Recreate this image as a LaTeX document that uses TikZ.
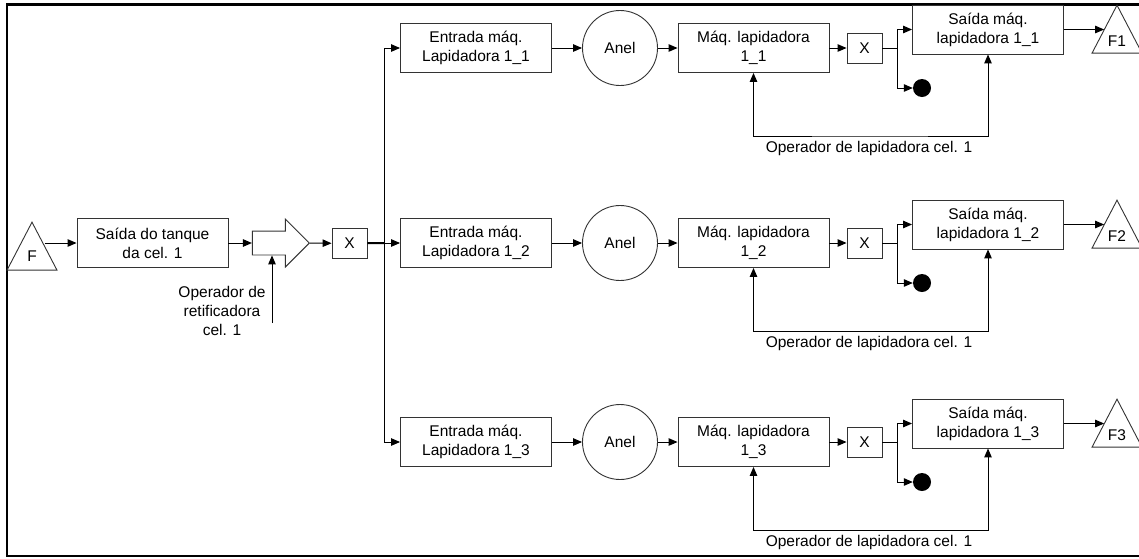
\documentclass[tikz,border=0pt]{standalone}
\usepackage{fontspec}
\setmainfont{Liberation Sans}
\usetikzlibrary{shapes.geometric}
\usetikzlibrary{shapes.arrows}
\usetikzlibrary{arrows.meta}

\tikzset{
  box/.style={draw=black!80, line width=0.9pt, minimum width=151pt, minimum height=49pt, align=center, inner sep=1pt},
  xbox/.style={draw=black!80, line width=0.9pt, minimum width=35pt, minimum height=30pt, inner sep=0pt},
  ring/.style={draw=black!80, line width=0.9pt, circle, minimum size=75pt, inner sep=0pt},
  sink/.style={circle, fill=black, minimum size=18pt, inner sep=0pt},
  src/.style={draw=black!80, line width=0.9pt, isosceles triangle, shape border rotate=90,
    isosceles triangle stretches, minimum width=50pt, minimum height=48pt, inner sep=0pt, anchor=apex},
  merge/.style={draw=black!80, line width=0.9pt, single arrow, single arrow head extend=12pt,
    minimum height=57pt, inner xsep=0pt, inner ysep=11.5pt, anchor=tip},
  flow/.style={line width=1pt, -{Triangle[length=9pt,width=7.5pt]}},
  feed/.style={line width=1pt, {Triangle[length=9pt,width=7.5pt]}-{Triangle[length=9pt,width=7.5pt]}},
}

\begin{document}
\begin{tikzpicture}[x=1pt,y=-1pt,font=\fontsize{15.5}{19}\selectfont]
  \useasboundingbox (0,0) rectangle (1139,558);
  \draw[line width=2.4pt] (1150,4.3) -- (7,4.3) -- (7,556) -- (1150,556);

  % retificadora side
  \node[src] (f0) at (32,221) {F};
  \node[box] (tanq) at (152.5,243) {Saída do tanque\\da cel. 1};
  \node[merge] (ret) at (310,243) {};
  \node[xbox] (x0) at (349.5,243.5) {X};
  \coordinate (opr) at (272,323);
  \node[align=center] (oprlab) at (222,311) {Operador de\\retificadora\\cel. 1};
  \coordinate (dist) at (384,243);

  \draw[flow] (tanq.west -| f0.right side) -- (tanq.west);
  \draw[flow] (tanq) -- (ret.tail);
  \draw[flow] (opr) -- (opr |- ret.south);
  \draw[flow] (ret.tip) -- (x0);
  \draw[line width=2pt] (x0) -- (dist);

  % the three lapidadora lines
  \foreach \i/\y in {1/48,2/243,3/442}{
    \node[box] (ent\i) at (476,\y) {Entrada máq.\\Lapidadora 1\_\i};
    \node[ring] (anel\i) at (620,\y) {Anel};
    \node[box] (maq\i) at (753.5,\y) {Máq. lapidadora\\1\_\i};
    \node[xbox] (x\i) at (864.5,\y) {X};
    \coordinate (sp\i) at (897,\y);
    \node[box] (sai\i) at (988,\y-18.5) {Saída máq.\\lapidadora 1\_\i};
    \node[sink] (rej\i) at (922,\y+40) {};
    \node[src] (f\i) at (1117,\y-44) {F\i};
    \coordinate (fb\i) at (869,\y+88);
    \node (op\i) at (869,\y+100) {Operador de lapidadora cel. 1};

    \draw[flow] (dist) |- (ent\i);
    \draw[flow] (ent\i) -- (anel\i);
    \draw[flow] (anel\i) -- (maq\i);
    \draw[flow] (maq\i) -- (x\i);
    \draw[line width=1pt] (x\i) -- (sp\i);
    \draw[flow] (sp\i) |- (sai\i);
    \draw[flow] (sp\i) |- (rej\i);
    \draw[flow] (sai\i.east) -- (sai\i.east -| f\i.left side);
    \draw[feed] (maq\i) |- (fb\i) -| (sai\i);
  }
\end{tikzpicture}
\end{document}
